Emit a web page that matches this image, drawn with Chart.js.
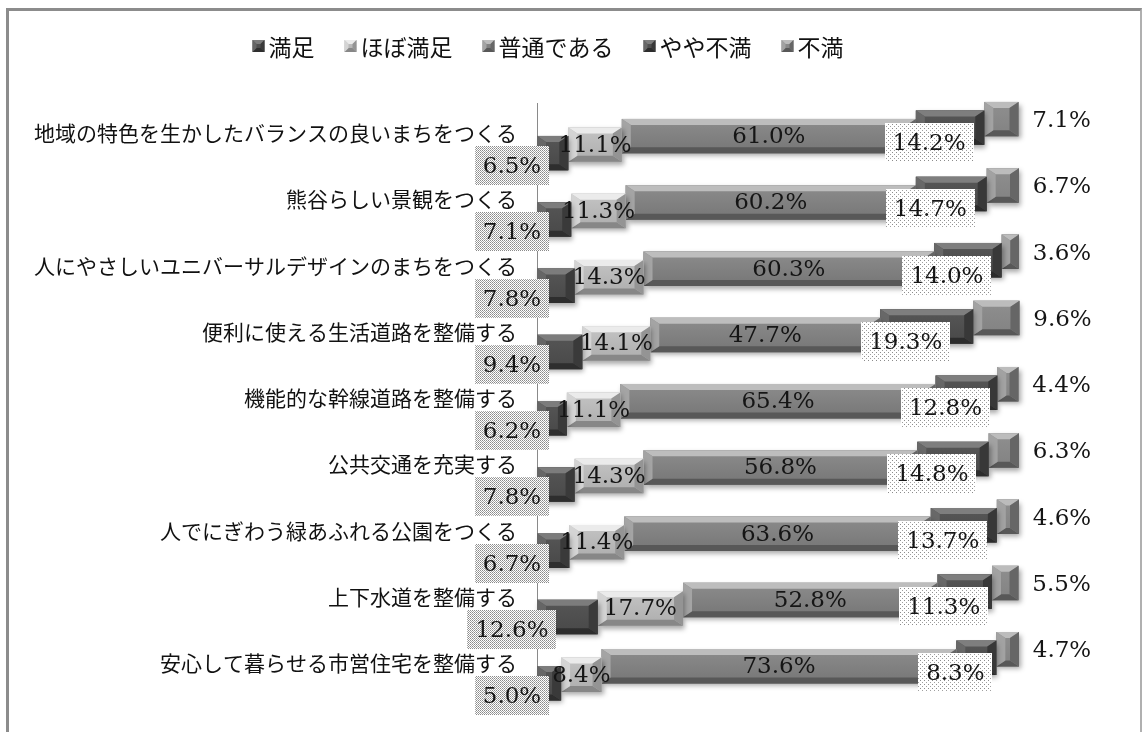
<!DOCTYPE html>
<html lang="ja">
<head>
<meta charset="utf-8">
<title>満足度</title>
<script src="https://cdn.jsdelivr.net/npm/chart.js@4.4.1/dist/chart.umd.min.js"></script>
<style>
  html, body { margin: 0; padding: 0; background: #fff; overflow: hidden; }
  #wrap { position: relative; width: 1143px; height: 732px; }
  #wrap canvas { position: absolute; left: 0; top: 0; }
  #frame {
    position: absolute; left: 6px; top: 8px; width: 1131px; height: 780px;
    border-left: 3px solid #8c8c8c; border-top: 3px solid #8c8c8c; border-right: 2px solid #b0b0b0;
    pointer-events: none;
  }
</style>
</head>
<body>
<div id="wrap">
  <canvas id="chart" width="1143" height="732"></canvas>
  <div id="frame"></div>
</div>
<script>
// Survey items (top to bottom)
const categories = [
  '地域の特色を生かしたバランスの良いまちをつくる',
  '熊谷らしい景観をつくる',
  '人にやさしいユニバーサルデザインのまちをつくる',
  '便利に使える生活道路を整備する',
  '機能的な幹線道路を整備する',
  '公共交通を充実する',
  '人でにぎわう緑あふれる公園をつくる',
  '上下水道を整備する',
  '安心して暮らせる市営住宅を整備する'
];

// Answer options
const seriesNames = ['満足', 'ほぼ満足', '普通である', 'やや不満', '不満'];

// Share of answers per item (%)
const satisfied       = [6.5, 7.1, 7.8, 9.4, 6.2, 7.8, 6.7, 12.6, 5.0];
const mostlySatisfied = [11.1, 11.3, 14.3, 14.1, 11.1, 14.3, 11.4, 17.7, 8.4];
const neutral         = [61.0, 60.2, 60.3, 47.7, 65.4, 56.8, 63.6, 52.8, 73.6];
const somewhatUnhappy = [14.2, 14.7, 14.0, 19.3, 12.8, 14.8, 13.7, 11.3, 8.3];
const unhappy         = [7.1, 6.7, 3.6, 9.6, 4.4, 6.3, 4.6, 5.5, 4.7];

const seriesValues = [satisfied, mostlySatisfied, neutral, somewhatUnhappy, unhappy];

// Grey bevel palettes, one per answer option
const palettes = [
  { face: '#565656', faceB: '#484848', top: '#7c7c7c', left: '#666666', right: '#3a3a3a', bottom: '#2e2e2e' },
  { face: '#c4c4c4', faceB: '#adadad', top: '#ebebeb', left: '#d4d4d4', right: '#949494', bottom: '#878787' },
  { face: '#8c8c8c', faceB: '#767676', top: '#bdbdbd', left: '#a4a4a4', right: '#666666', bottom: '#585858' },
  { face: '#575757', faceB: '#484848', top: '#7e7e7e', left: '#686868', right: '#383838', bottom: '#2c2c2c' },
  { face: '#8f8f8f', faceB: '#828282', top: '#bcbcbc', left: '#a2a2a2', right: '#666666', bottom: '#585858' }
];

const DEPTH_STEP = 8.5;               // vertical stagger between series
const depthOffset = i => (2 - i) * DEPTH_STEP;
const LABEL_FONT = '23px "DejaVu Serif"';
const CAT_FONT_FAMILY = '"Noto Sans CJK JP", "Noto Sans CJK SC", sans-serif';

function bevelBox(ctx, x0, y0, x1, y1, pal, bxMax, byMax) {
  const w = x1 - x0, h = y1 - y0;
  if (w <= 0 || h <= 0) return;
  const bx = Math.min(bxMax, w / 2), by = Math.min(byMax, h / 2);
  const g = ctx.createLinearGradient(0, y0, 0, y1);
  g.addColorStop(0, pal.face);
  g.addColorStop(1, pal.faceB);
  ctx.fillStyle = g;
  ctx.fillRect(x0, y0, w, h);
  const poly = (pts, col) => {
    ctx.beginPath();
    ctx.moveTo(pts[0][0], pts[0][1]);
    for (let k = 1; k < pts.length; k++) ctx.lineTo(pts[k][0], pts[k][1]);
    ctx.closePath();
    ctx.fillStyle = col;
    ctx.fill();
  };
  poly([[x0, y0], [x1, y0], [x1 - bx, y0 + by], [x0 + bx, y0 + by]], pal.top);
  poly([[x0, y1], [x1, y1], [x1 - bx, y1 - by], [x0 + bx, y1 - by]], pal.bottom);
  poly([[x0, y0], [x0 + bx, y0 + by], [x0 + bx, y1 - by], [x0, y1]], pal.left);
  poly([[x1, y0], [x1 - bx, y0 + by], [x1 - bx, y1 - by], [x1, y1]], pal.right);
}

function stipple(dotA, dotB, size) {
  const c = document.createElement('canvas');
  c.width = size; c.height = size;
  const x = c.getContext('2d');
  x.fillStyle = '#ffffff';
  x.fillRect(0, 0, size, size);
  x.fillStyle = dotA;
  x.fillRect(0, 0, 1, 1);
  x.fillStyle = dotB;
  x.fillRect(size / 2, size / 2, 1, 1);
  return c;
}

// Staggers each series vertically, adds a soft shadow and bevelled faces
const depthPlugin = {
  id: 'depthBars',
  beforeDatasetDraw(chart, args) {
    const ctx = chart.ctx;
    ctx.save();
    ctx.translate(0, depthOffset(args.index));
    ctx.shadowColor = 'rgba(0,0,0,0.35)';
    ctx.shadowBlur = 5;
    ctx.shadowOffsetX = 2;
    ctx.shadowOffsetY = 3;
  },
  afterDatasetDraw(chart, args) {
    const ctx = chart.ctx;
    ctx.shadowColor = 'rgba(0,0,0,0)';
    ctx.shadowBlur = 0;
    ctx.shadowOffsetX = 0;
    ctx.shadowOffsetY = 0;
    const pal = palettes[args.index];
    args.meta.data.forEach(el => {
      const p = el.getProps(['x', 'base', 'y', 'height'], true);
      const x0 = Math.min(p.x, p.base), x1 = Math.max(p.x, p.base);
      bevelBox(ctx, x0, p.y - p.height / 2, x1, p.y + p.height / 2, pal, 9, 6);
    });
    ctx.restore();
  }
};

// Percentage labels
const labelPlugin = {
  id: 'valueLabels',
  afterDatasetsDraw(chart) {
    const ctx = chart.ctx;
    const axisX = chart.chartArea.left;
    const denseFill = ctx.createPattern(stipple('#8a8a8a', '#a8a8a8', 2), 'repeat');
    const lightFill = ctx.createPattern(stipple('#8c8c8c', '#a0a0a0', 4), 'repeat');
    ctx.save();
    ctx.font = LABEL_FONT;
    ctx.textAlign = 'center';
    ctx.textBaseline = 'middle';
    chart.data.datasets.forEach((ds, i) => {
      const meta = chart.getDatasetMeta(i);
      meta.data.forEach((el, j) => {
        const text = ds.data[j].toFixed(1) + '%';
        const tw = ctx.measureText(text).width;
        const row = el.y;
        const mid = (el.x + el.base) / 2;
        let tx, ty, fill = null;
        if (i === 0) { tx = axisX - 25; ty = row + 31; fill = denseFill; }
        else if (i === 1) { tx = mid; ty = row + depthOffset(1) + 1; }
        else if (i === 2) { tx = mid; ty = row + 1; }
        else if (i === 3) { tx = mid - 21; ty = row + 8; fill = lightFill; }
        else { tx = el.x + 43; ty = row - 15; }
        if (fill) {
          ctx.fillStyle = fill;
          ctx.fillRect(Math.round(tx - tw / 2 - 8), Math.round(ty - 21), Math.round(tw + 16), 39);
        }
        ctx.fillStyle = '#151515';
        ctx.fillText(text, tx, ty);
      });
    });
    ctx.restore();
  }
};

// Legend row across the top
const legendPlugin = {
  id: 'topLegend',
  afterDraw(chart) {
    const ctx = chart.ctx;
    const centerX = 548, cy = 46, box = 12, gapBox = 4, gapItem = 30;
    ctx.save();
    ctx.font = '23px ' + CAT_FONT_FAMILY;
    ctx.textBaseline = 'middle';
    ctx.textAlign = 'left';
    const items = chart.data.datasets.map((ds, i) => ({
      text: ds.label, pal: palettes[i], w: box + gapBox + ctx.measureText(ds.label).width
    }));
    const total = items.reduce((s, it) => s + it.w, 0) + gapItem * (items.length - 1);
    let x = centerX - total / 2;
    items.forEach(it => {
      bevelBox(ctx, x, cy - box / 2, x + box, cy + box / 2, it.pal, 4, 4);
      ctx.fillStyle = '#111';
      ctx.fillText(it.text, x + box + gapBox, cy + 1);
      x += it.w + gapItem;
    });
    ctx.restore();
  }
};

function build() {
  new Chart(document.getElementById('chart'), {
    type: 'bar',
    data: {
      labels: categories,
      datasets: seriesNames.map((name, i) => ({
        label: name,
        data: seriesValues[i],
        backgroundColor: palettes[i].face,
        borderWidth: 0,
        barPercentage: 0.52,
        categoryPercentage: 1,
        clip: false
      }))
    },
    options: {
      indexAxis: 'y',
      responsive: false,
      animation: false,
      devicePixelRatio: 1,
      layout: { padding: { top: 103, right: 124, bottom: 19, left: 0 } },
      plugins: { legend: { display: false }, tooltip: { enabled: false } },
      scales: {
        x: { stacked: true, min: 0, max: 100, display: false },
        y: {
          stacked: true,
          grid: { display: false, drawTicks: false },
          border: { display: true, color: '#8a8a8a', width: 1 },
          ticks: { color: '#111', font: { family: CAT_FONT_FAMILY, size: 21 }, padding: 20, labelOffset: -3 },
          afterFit(scale) { scale.width = 537; }
        }
      }
    },
    plugins: [depthPlugin, labelPlugin, legendPlugin]
  });
}

if (document.fonts && document.fonts.load) {
  Promise.all([
    document.fonts.load('21px "Noto Sans CJK JP"'),
    document.fonts.load('23px "DejaVu Serif"')
  ]).then(build, build);
} else {
  build();
}
</script>
</body>
</html>
